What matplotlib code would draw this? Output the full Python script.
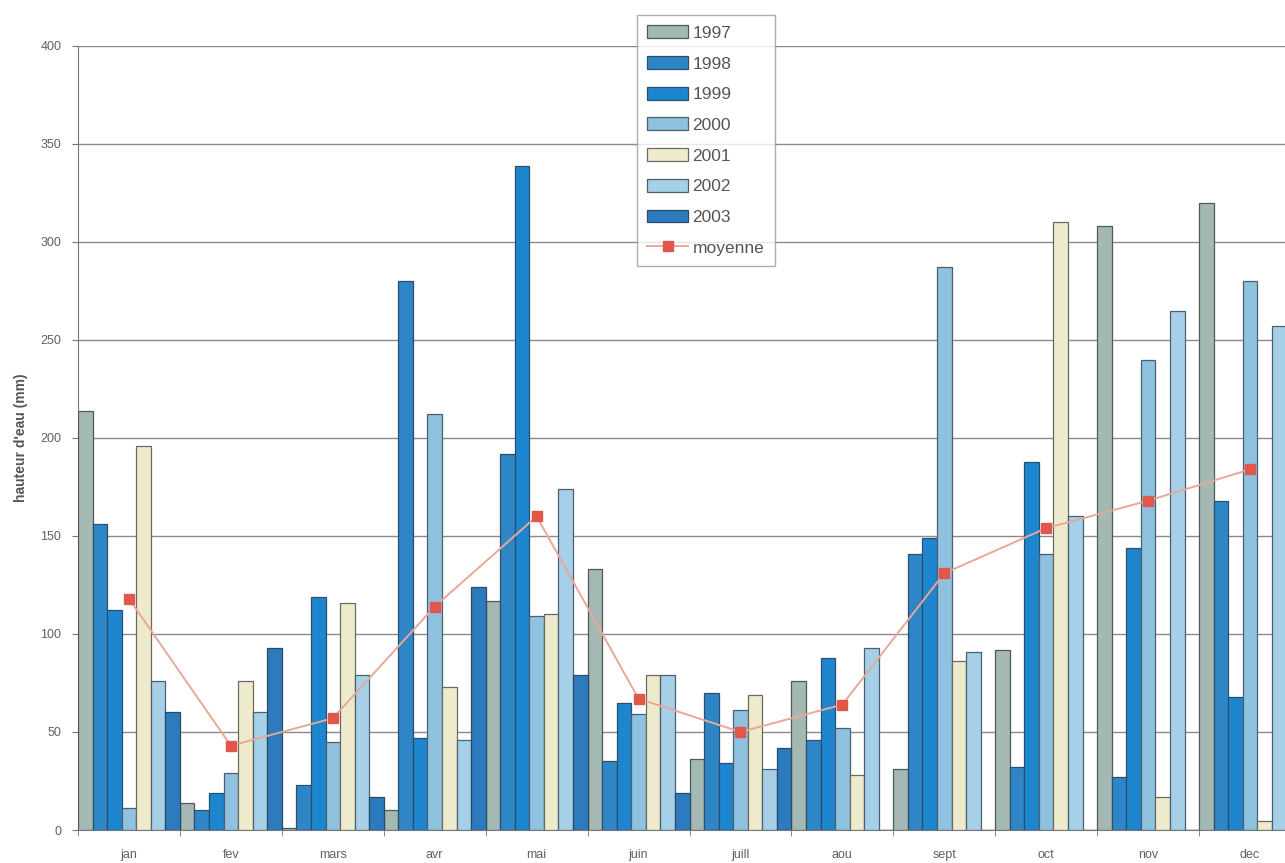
import numpy as np
import matplotlib
matplotlib.use("Agg")
import matplotlib.pyplot as plt

plt.rcParams['font.family'] = ['Liberation Sans', 'DejaVu Sans']

months = ["jan", "fev", "mars", "avr", "mai", "juin", "juill", "aou",
          "sept", "oct", "nov", "dec"]
years = ["1997", "1998", "1999", "2000", "2001", "2002", "2003"]

nan = np.nan
rain_1997 = [214, 14, 1, 10, 117, 133, 36, 76, 31, 92, 308, 320]
rain_1998 = [156, 10, 23, 280, 192, 35, 70, 46, 141, 32, 27, 168]
rain_1999 = [112, 19, 119, 47, 339, 65, 34, 88, 149, 188, 144, 68]
rain_2000 = [11, 29, 45, 212, 109, 59, 61, 52, 287, 141, 240, 280]
rain_2001 = [196, 76, 116, 73, 110, 79, 69, 28, 86, 310, 17, 4.5]
rain_2002 = [76, 60, 79, 46, 174, 79, 31, 93, 91, 160, 265, 257]
rain_2003 = [60, 93, 17, 124, 79, 19, 42, nan, nan, nan, nan, nan]
moyenne = [118, 43, 57, 114, 160, 67, 50, 64, 131, 154, 168, 184]

series = [rain_1997, rain_1998, rain_1999, rain_2000, rain_2001, rain_2002, rain_2003]
colors = ["#A4B8B4", "#2F86C6", "#1E86CF", "#8FC2DF", "#EEEBCD", "#A6D0E7", "#2C7BBE"]
edges = ["#4F5A58", "#2A4F6E", "#284F70", "#4B6070", "#6A6A60", "#4B6070", "#2A4A66"]

fig = plt.figure(figsize=(12.85, 8.63), dpi=100)
ax = fig.add_axes([78 / 1285, 1 - 830 / 863, 1223 / 1285, 784 / 863])

x = np.arange(len(months))
w = 1.0 / len(years)
handles = []
for k, (vals, c, e) in enumerate(zip(series, colors, edges)):
    b = ax.bar(x - 0.5 + k * w, np.nan_to_num(vals, nan=0.0), width=w, align="edge",
               color=c, edgecolor=e, linewidth=0.9, zorder=3, label=years[k])
    handles.append(b)

ln, = ax.plot(x, moyenne, color="#E8A898", linewidth=1.4, zorder=4,
              marker="s", markersize=7, markerfacecolor="#E2574C",
              markeredgecolor="#E2574C", label="moyenne")
handles.append(ln)

ax.set_xlim(-0.5, 11.5)
ax.set_ylim(0, 400)
ax.set_yticks(np.arange(0, 401, 50))
ax.yaxis.grid(True, color="#8A8A8A", linewidth=1.0, zorder=0)
ax.set_axisbelow(True)

ax.set_xticks(x)
ax.set_xticklabels(months)
ax.set_xticks(np.arange(-0.5, 12, 1), minor=True)
ax.tick_params(axis="x", which="major", length=0, pad=14, labelsize=9, labelcolor="#606060")
ax.tick_params(axis="x", which="minor", length=4, color="#777777", direction="out")
ax.tick_params(axis="y", length=4, color="#777777", labelsize=9, labelcolor="#606060", pad=8)

for s in ["top", "right"]:
    ax.spines[s].set_visible(False)
ax.spines["left"].set_color("#777777")
ax.spines["bottom"].set_color("#777777")

ax.set_ylabel("hauteur d'eau (mm)", fontsize=10, fontweight="bold", color="#555555", labelpad=9)

leg = fig.legend(handles=handles, labels=years + ["moyenne"],
                 loc="upper left", bbox_to_anchor=(637 / 1285, 1 - 15 / 863),
                 frameon=True, fancybox=False, edgecolor="#999999",
                 fontsize=12.5, handlelength=2.35, handleheight=0.75,
                 labelspacing=0.88, borderpad=0.6, handletextpad=0.25,
                 borderaxespad=0)
for t in leg.get_texts():
    t.set_color("#555555")
leg.get_frame().set_linewidth(1.0)

fig.savefig("out.png", dpi=100, facecolor="white")
